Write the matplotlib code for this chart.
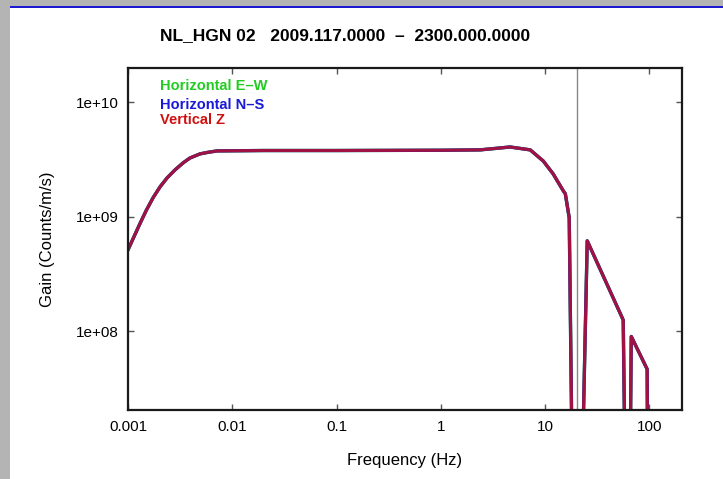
import numpy as np
import matplotlib
matplotlib.use('Agg')
import matplotlib.pyplot as plt
from matplotlib.patches import Rectangle

plt.rcParams['font.family'] = ['Liberation Sans', 'DejaVu Sans']

#==========
# 1. Data
#==========

title = "NL_HGN 02   2009.117.0000  \u2013  2300.000.0000"

# frequency points (Hz)
freq = [0.001, 0.00114, 0.0013, 0.00149, 0.00174, 0.00203, 0.00237, 0.00282,
        0.00337, 0.00393, 0.0049, 0.0058, 0.00714, 0.02, 0.1,
        1.0, 2.38, 3.7, 4.6, 7.18, 9.57, 11.9, 14.9, 15.6, 17.0, 18.6,
        21.7, 25.3, 54.8, 56.0, 59.8, 64.0, 66.9, 95.0, 97.0]

# gain (counts/m/s); values below the axis floor are just "very small"
gain_ew = [5.15e8, 6.69e8, 8.7e8, 1.13e9, 1.47e9, 1.83e9, 2.19e9, 2.57e9,
           2.96e9, 3.27e9, 3.55e9, 3.66e9, 3.77e9, 3.8e9, 3.8e9,
           3.82e9, 3.85e9, 4.0e9, 4.08e9, 3.85e9, 3.08e9, 2.38e9, 1.69e9, 1.59e9, 9.8e8, 1e6,
           1e6, 6.17e8, 1.31e8, 1.25e8, 1e6, 1e6, 9.0e7, 4.66e7, 1e6]
gain_ns = [5.15e8, 6.69e8, 8.7e8, 1.13e9, 1.47e9, 1.83e9, 2.19e9, 2.57e9,
           2.96e9, 3.27e9, 3.55e9, 3.66e9, 3.77e9, 3.8e9, 3.8e9,
           3.82e9, 3.85e9, 4.0e9, 4.08e9, 3.85e9, 3.08e9, 2.38e9, 1.69e9, 1.59e9, 9.8e8, 1e6,
           1e6, 6.17e8, 1.31e8, 1.25e8, 1e6, 1e6, 9.0e7, 4.66e7, 1e6]
gain_z = [5.15e8, 6.69e8, 8.7e8, 1.13e9, 1.47e9, 1.83e9, 2.19e9, 2.57e9,
          2.96e9, 3.27e9, 3.55e9, 3.66e9, 3.77e9, 3.8e9, 3.8e9,
          3.82e9, 3.85e9, 4.0e9, 4.08e9, 3.85e9, 3.08e9, 2.38e9, 1.69e9, 1.59e9, 9.8e8, 1e6,
          1e6, 6.17e8, 1.31e8, 1.25e8, 1e6, 1e6, 9.0e7, 4.66e7, 1e6]

nyquist = 20.0

x_ticks = [0.001, 0.01, 0.1, 1, 10, 100]
x_labels = ['0.001', '0.01', '0.1', '1', '10', '100']
y_ticks = [1e8, 1e9, 1e10]
y_labels = ['1e+08', '1e+09', '1e+10']

#==============
# 2. Plotting
#==============

fig = plt.figure(figsize=(7.23, 4.79), dpi=100)
fig.patch.set_facecolor('#b4b4b4')

# white page with blue rule on top (behind everything)
page = Rectangle((10/723, 0), 1, 1 - 8/479, transform=fig.transFigure,
                 facecolor='white', edgecolor='none', zorder=-10)
rule = Rectangle((10/723, 1 - 8/479), 1, 2/479, transform=fig.transFigure,
                 facecolor='#1a1ad0', edgecolor='none', zorder=-10)
fig.add_artist(page)
fig.add_artist(rule)

ax = fig.add_axes([128/723, 1 - 410/479, 554/723, 342/479])
ax.set_xscale('log')
ax.set_yscale('log')

ax.plot(freq, gain_ew, color='#22cc22', linewidth=2.4)
ax.plot(freq, gain_ns, color='#1a1ad8', linewidth=2.4)
ax.plot(freq, gain_z, color='#d01010', linewidth=2.2, alpha=0.75)
ax.axvline(nyquist, color='#888888', linewidth=1)

ax.set_xlim(0.001, 205)
ax.set_ylim(2.05e7, 2.0e10)

ax.xaxis.set_major_locator(matplotlib.ticker.FixedLocator(x_ticks))
ax.xaxis.set_major_formatter(matplotlib.ticker.FixedFormatter(x_labels))
ax.yaxis.set_major_locator(matplotlib.ticker.FixedLocator(y_ticks))
ax.yaxis.set_major_formatter(matplotlib.ticker.FixedFormatter(y_labels))
ax.xaxis.set_minor_locator(matplotlib.ticker.NullLocator())
ax.yaxis.set_minor_locator(matplotlib.ticker.NullLocator())
ax.tick_params(direction='in', length=4, width=1, top=True, right=True,
               labelsize=11, pad=7, color='#555555')

for s in ax.spines.values():
    s.set_linewidth(1.6)
    s.set_color('#1a1a1a')

ax.set_xlabel("Frequency (Hz)", fontsize=12, labelpad=14)
ax.set_ylabel("Gain (Counts/m/s)", fontsize=12, labelpad=15)

# legend as coloured text lines
fig.text(160/723, 1 - 86/479, "Horizontal E\u2013W",
         color='#22cc22', fontsize=10.5, fontweight='bold', va='center')
fig.text(160/723, 1 - 105/479, "Horizontal N\u2013S",
         color='#1a1ad8', fontsize=10.5, fontweight='bold', va='center')
fig.text(160/723, 1 - 120/479, "Vertical Z",
         color='#d01010', fontsize=10.5, fontweight='bold', va='center')

fig.text(345/723, 1 - 36/479, title, ha='center', va='center',
         fontsize=12.5, fontweight='bold')

fig.savefig('out.png', dpi=100, facecolor=fig.get_facecolor())
